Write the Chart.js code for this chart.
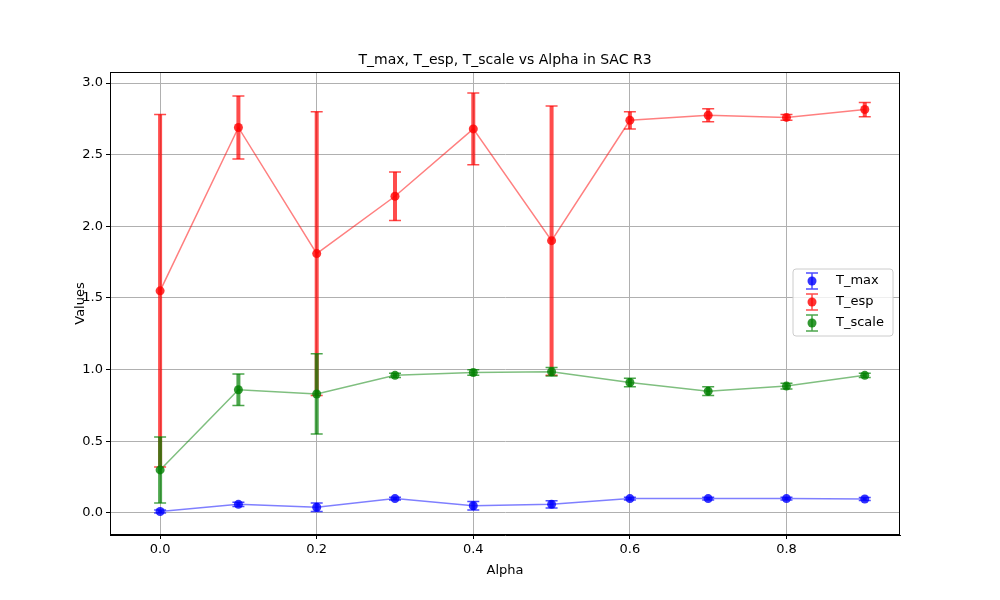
<!DOCTYPE html><html><head><script src="https://cdn.jsdelivr.net/npm/chart.js@4"></script>
<style>body{margin:0;background:#fff}</style></head><body>
<canvas id="c" width="1000" height="600" style="width:1000px;height:600px"></canvas>
<script>
const alphas=[0,0.1,0.2,0.3,0.4,0.5,0.6,0.7,0.8,0.9];
const tmax=[0.01,0.06,0.04,0.10,0.05,0.06,0.10,0.10,0.10,0.097];
const tmaxErr=[0.01,0.015,0.03,0.01,0.03,0.025,0.01,0.01,0.01,0.01];
const tesp=[1.55,2.69,1.81,2.21,2.68,1.90,2.74,2.775,2.76,2.815];
const tespErr=[1.23,0.22,0.99,0.17,0.25,0.94,0.06,0.045,0.02,0.05];
const tscale=[0.30,0.86,0.83,0.96,0.98,0.985,0.91,0.85,0.885,0.96];
const tscaleErr=[0.23,0.11,0.28,0.015,0.02,0.03,0.03,0.03,0.02,0.015];
const series=[
 {label:'T_max',v:tmax,e:tmaxErr,c:'0,0,255'},
 {label:'T_esp',v:tesp,e:tespErr,c:'255,0,0'},
 {label:'T_scale',v:tscale,e:tscaleErr,c:'0,128,0'}];
const F='"DejaVu Sans", sans-serif';
const plug={id:'p',
 afterDatasetsDraw(ch){const x=ch.scales.x,y=ch.scales.y,g=ch.ctx;g.save();
  series.forEach(s=>{s.v.forEach((v,i)=>{const px=x.getPixelForValue(alphas[i]);
   const t=y.getPixelForValue(v+s.e[i]),b=y.getPixelForValue(v-s.e[i]);
   g.strokeStyle=`rgba(${s.c},0.7)`;g.lineWidth=4;g.beginPath();g.moveTo(px,t);g.lineTo(px,b);g.stroke();
   g.lineWidth=1.5;g.beginPath();g.moveTo(px-6,t);g.lineTo(px+6,t);g.moveTo(px-6,b);g.lineTo(px+6,b);g.stroke();
   g.fillStyle=`rgba(${s.c},0.8)`;g.beginPath();g.arc(px,y.getPixelForValue(v),4.5,0,7);g.fill();});});
  g.restore();},
 afterDraw(ch){const g=ch.ctx,a=ch.chartArea;g.save();
  g.strokeStyle='#000';g.lineWidth=1;g.strokeRect(a.left+0.5,a.top+0.5,a.right-a.left-1,a.bottom-a.top-1);
  g.fillStyle='#000';g.textAlign='center';
  g.font='14px '+F;g.fillText('T_max, T_esp, T_scale vs Alpha in SAC R3',(a.left+a.right)/2,64);
  g.font='13px '+F;g.fillText('Alpha',(a.left+a.right)/2,574);
  g.save();g.translate(84,(a.top+a.bottom)/2);g.rotate(-Math.PI/2);g.fillText('Values',0,0);g.restore();
  g.strokeStyle='#ccc';g.fillStyle='rgba(255,255,255,0.8)';g.lineWidth=1;
  g.beginPath();g.roundRect(793,269,100,67,3);g.fill();g.stroke();
  g.textAlign='left';g.textBaseline='middle';g.font='13px '+F;
  series.forEach((s,i)=>{const yy=281+i*21,xx=812;
   g.strokeStyle=`rgba(${s.c},0.7)`;g.lineWidth=1.5;g.beginPath();g.moveTo(xx,yy-8);g.lineTo(xx,yy+8);g.moveTo(xx-6,yy-8);g.lineTo(xx+6,yy-8);g.moveTo(xx-6,yy+8);g.lineTo(xx+6,yy+8);g.stroke();
   g.fillStyle=`rgba(${s.c},0.8)`;g.beginPath();g.arc(xx,yy,4.5,0,7);g.fill();
   g.fillStyle='#000';g.fillText(s.label,836,yy);});
  g.restore();}};
new Chart(document.getElementById('c'),{type:'scatter',
 data:{datasets:series.map(s=>({label:s.label,data:alphas.map((a,i)=>({x:a,y:s.v[i]})),showLine:true,
  borderColor:`rgba(${s.c},0.5)`,borderWidth:1.5,pointRadius:0,tension:0}))},
 options:{responsive:false,animation:false,devicePixelRatio:1,
  layout:{padding:{top:72,right:100,left:0,bottom:0}},
  plugins:{legend:{display:false},tooltip:{enabled:false}},
  scales:{
   x:{min:-0.064,max:0.945,afterFit:s=>{s.height=65},afterBuildTicks:s=>{s.ticks=[0,0.2,0.4,0.6,0.8].map(v=>({value:v}))},
    ticks:{color:'#000',font:{size:13,family:F},callback:v=>v.toFixed(1)},grid:{color:'#b0b0b0',tickColor:'#000',drawTicks:true,tickLength:4},border:{color:'#000'}},
   y:{min:-0.154,max:3.077,afterFit:s=>{s.width=110},afterBuildTicks:s=>{s.ticks=[0,0.5,1,1.5,2,2.5,3].map(v=>({value:v}))},
    ticks:{color:'#000',font:{size:13,family:F},callback:v=>v.toFixed(1)},grid:{color:'#b0b0b0',tickColor:'#000',tickLength:4},border:{color:'#000'}}}},
 plugins:[plug]});
</script></body></html>
